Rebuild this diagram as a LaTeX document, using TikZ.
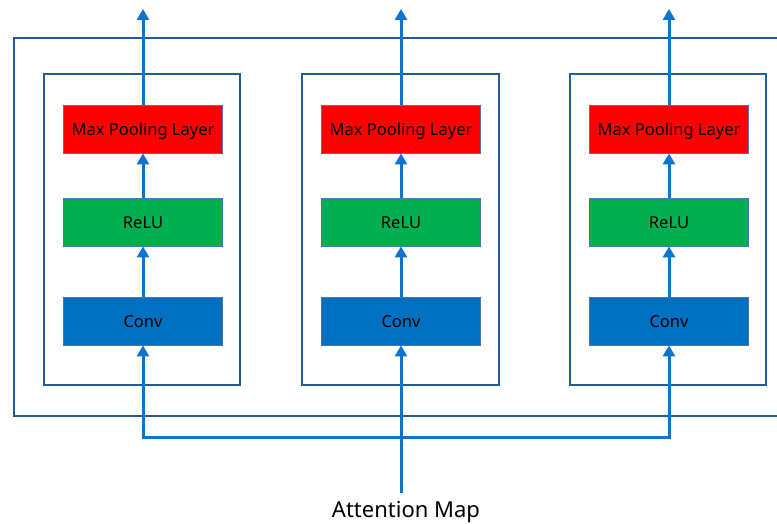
\documentclass[tikz,border=0pt]{standalone}
\usepackage{fontspec}
\setmainfont{Noto Sans}
\usetikzlibrary{arrows.meta}
\definecolor{arrowblue}{HTML}{0A74D0}
\definecolor{frameblue}{HTML}{1F5C99}
\definecolor{boxred}{HTML}{FF0000}
\definecolor{boxgreen}{HTML}{00B050}
\definecolor{boxblue}{HTML}{0070C0}
\definecolor{edgeblue}{HTML}{4A76B0}
\tikzset{
  frame/.style={draw=frameblue, line width=1.6pt},
  layer/.style={draw=edgeblue, line width=0.8pt, minimum width=159pt, minimum height=48pt, inner sep=0pt, text height=14.5pt, text depth=1pt, font=\fontsize{16.5}{18}\selectfont, text=black},
  flow/.style={draw=arrowblue, line width=3pt, -{Triangle[width=12pt,length=11pt]}},
  bus/.style={draw=arrowblue, line width=3pt}
}
\begin{document}
\begin{tikzpicture}[x=1pt,y=-1pt]
\useasboundingbox (0,0) rectangle (777,524);
% outer frame (right side beyond picture)
\draw[frame] (800,38) -- (14,38) -- (14,416) -- (800,416);
% inner blocks
\draw[frame] (44,74) rectangle (240,385);
\draw[frame] (302,74) rectangle (499,385);
\draw[frame] (570,74) rectangle (766,385);
% layers
\foreach \n/\x in {1/143,2/401,3/669}{
  \node[layer, fill=boxred] (mp\n) at (\x,129) {Max Pooling Layer};
  \node[layer, fill=boxgreen] (re\n) at (\x,222) {ReLU};
  \node[layer, fill=boxblue] (cv\n) at (\x,321) {Conv};
  \coordinate (top\n) at (\x,9);
  \draw[flow] (mp\n) -- (top\n);
  \draw[flow] (re\n) -- (mp\n);
  \draw[flow] (cv\n) -- (re\n);
}
\node[font=\fontsize{22}{26}\selectfont, anchor=north, inner sep=0pt] (attn) at (406,501) {Attention Map};
\coordinate (b1) at (143,437);
\coordinate (b3) at (669,437);
\coordinate (src) at (401,493);
\draw[bus] ([xshift=-1.5pt]b1) -- ([xshift=1.5pt]b3);
\draw[flow] ([yshift=1.5pt]b1) -- (cv1);
\draw[flow] ([yshift=1.5pt]b3) -- (cv3);
\draw[flow] (src) -- (cv2);
\end{tikzpicture}
\end{document}
